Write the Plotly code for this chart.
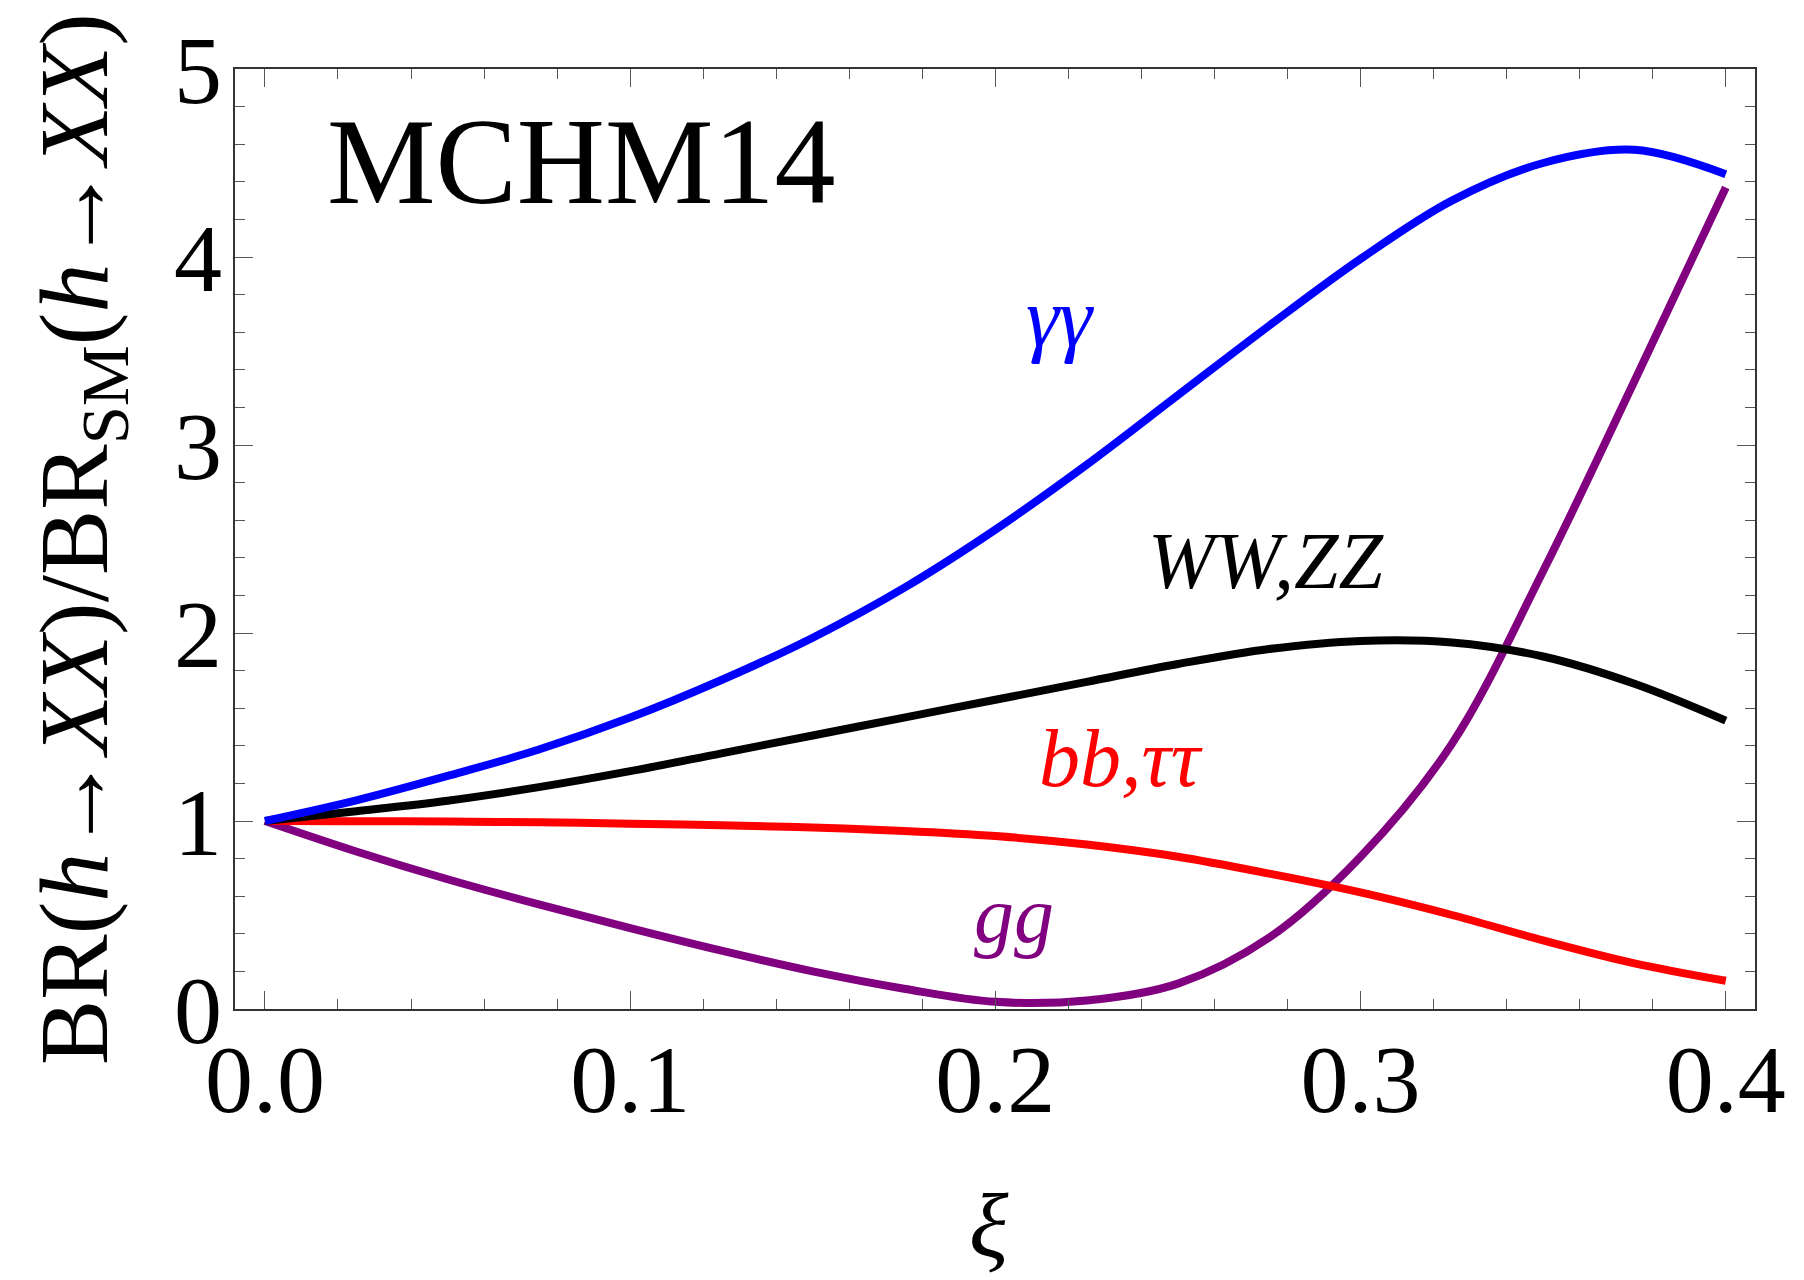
import plotly.graph_objects as go

# ---- data (xi on a 0.025 grid) ----
xi = [0.0, 0.025, 0.05, 0.075, 0.1, 0.125, 0.15, 0.175, 0.2, 0.225, 0.25, 0.275, 0.3, 0.325, 0.35, 0.375, 0.4]
br_gamma = [1.0, 1.11, 1.24, 1.38, 1.55, 1.75, 1.975, 2.24, 2.55, 2.895, 3.265, 3.635, 3.99, 4.30, 4.50, 4.57, 4.44]
br_ww = [1.0, 1.052, 1.108, 1.18, 1.265, 1.36, 1.455, 1.55, 1.645, 1.74, 1.835, 1.915, 1.958, 1.95, 1.875, 1.73, 1.534]
br_bb = [1.0, 0.999, 0.997, 0.993, 0.986, 0.977, 0.965, 0.947, 0.92, 0.875, 0.81, 0.72, 0.62, 0.50, 0.365, 0.243, 0.15]
br_gg = [1.0, 0.838, 0.69, 0.556, 0.43, 0.31, 0.2, 0.108, 0.038, 0.045, 0.135, 0.38, 0.81, 1.41, 2.33, 3.34, 4.37]

x_ticks = [0.0, 0.1, 0.2, 0.3, 0.4]
x_ticklabels = ["0.0", "0.1", "0.2", "0.3", "0.4"]
y_ticks = [0, 1, 2, 3, 4, 5]
y_ticklabels = ["0", "1", "2", "3", "4", "5"]

FONT = "Liberation Serif"
PURPLE = "rgb(128,0,128)"

fig = go.Figure()
for ys, col in [
    (br_gg, PURPLE),
    (br_bb, "rgb(255,0,0)"),
    (br_ww, "black"),
    (br_gamma, "rgb(0,0,255)"),
]:
    fig.add_trace(go.Scatter(x=xi, y=ys, mode="lines",
                             line=dict(color=col, width=8, shape="spline", smoothing=1.0),
                             hoverinfo="skip"))

fig.update_layout(
    width=1804, height=1280,
    margin=dict(l=235, r=49, t=69, b=271),
    plot_bgcolor="white", paper_bgcolor="white",
    showlegend=False,
    font=dict(family=FONT, color="black"),
)

axis_common = dict(
    showgrid=False, zeroline=False,
    showline=True, linecolor="#333", linewidth=1.5, mirror="ticks",
    ticks="inside", tickcolor="#555", tickwidth=1.3, ticklen=18,
)
fig.update_xaxes(range=[-0.0082, 0.408], tickvals=x_ticks, ticktext=x_ticklabels,
                 tickfont=dict(family=FONT, size=96, color="black"),
                 ticklabelstandoff=-14,
                 minor=dict(ticks="inside", ticklen=10, tickcolor="#555", tickwidth=1.2,
                            tick0=0, dtick=0.02, showgrid=False),
                 **axis_common)
fig.update_yaxes(range=[0, 5], tickvals=y_ticks, ticktext=y_ticklabels,
                 tickfont=dict(family=FONT, size=96, color="black"),
                 ticklabelstandoff=-8,
                 minor=dict(ticks="inside", ticklen=10, tickcolor="#555", tickwidth=1.2,
                            tick0=0, dtick=0.2, showgrid=False),
                 **axis_common)

annots = [
    dict(text="MCHM14", x=0.0164, y=4.51, xanchor="left", yanchor="middle",
         font=dict(family=FONT, size=122, color="black")),
    dict(text="<i>γγ</i>", x=0.2178, y=3.676, xanchor="center", yanchor="middle",
         font=dict(family=FONT, size=84, color="rgb(0,0,255)")),
    dict(text="<i>WW,ZZ</i>", x=0.2742, y=2.383, xanchor="center", yanchor="middle",
         font=dict(family=FONT, size=80, color="black")),
    dict(text="<i>bb,ττ</i>", x=0.2345, y=1.33, xanchor="center", yanchor="middle",
         font=dict(family=FONT, size=82, color="rgb(255,0,0)")),
    dict(text="<i>gg</i>", x=0.2052, y=0.5, xanchor="center", yanchor="middle",
         font=dict(family=FONT, size=80, color=PURPLE)),
]
for a in annots:
    fig.add_annotation(xref="x", yref="y", showarrow=False, **a)

fig.add_annotation(xref="paper", yref="paper", x=-0.1013, y=0.5, showarrow=False,
                   textangle=-90, xanchor="center", yanchor="middle",
                   text="BR(<i>h</i>→<i>XX</i>)/BR<sub>SM</sub>(<i>h</i>→<i>XX</i>)",
                   font=dict(family=FONT, size=98, color="black"))
fig.add_annotation(xref="paper", yref="paper", x=0.496, y=-0.231, showarrow=False,
                   xanchor="center", yanchor="middle", text="<i>ξ</i>",
                   font=dict(family=FONT, size=92, color="black"))

fig.write_html("out.html")
